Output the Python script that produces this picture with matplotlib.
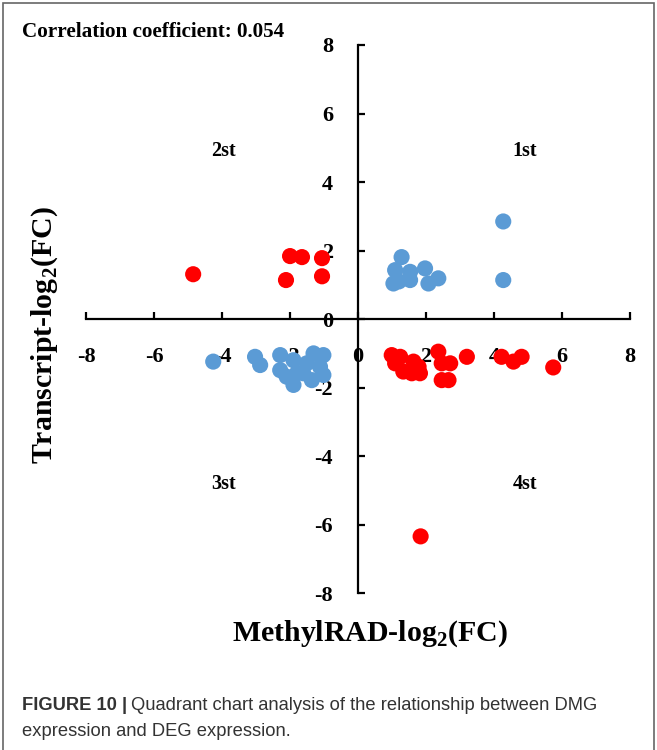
"""Quadrant chart: MethylRAD vs transcript log2 fold change."""

import matplotlib.pyplot as plt
from matplotlib.patches import Rectangle

plt.rcParams['mathtext.fontset'] = 'custom'
plt.rcParams['mathtext.rm'] = 'Liberation Serif:bold'
plt.rcParams['mathtext.bf'] = 'Liberation Serif:bold'
plt.rcParams['axes.unicode_minus'] = False

# Data (log2 fold changes)
red_x = [-4.85, -2.0, -1.65, -1.06, -2.12, -1.06,
         0.99, 1.24, 1.09, 1.33, 1.63, 1.58, 1.82, 1.78, 2.36, 2.71, 2.46,
         2.66, 3.2, 4.22, 4.57, 4.81, 5.74, 2.46, 1.84]
red_y = [1.31, 1.84, 1.81, 1.78, 1.14, 1.25,
         -1.05, -1.10, -1.29, -1.53, -1.24, -1.58, -1.58, -1.39, -0.95, -1.29, -1.78,
         -1.78, -1.10, -1.10, -1.24, -1.10, -1.41, -1.29, -6.34]

blue_x = [4.27, 4.27, 1.28, 1.09, 1.53, 1.04, 1.53, 1.97, 2.07, 2.36, 1.2,
          -4.26, -3.03, -2.88, -2.29, -2.29, -1.9, -1.9, -2.1, -1.31, -1.02,
          -1.12, -1.02, -1.51, -1.61, -1.36, -1.8]
blue_y = [2.85, 1.14, 1.81, 1.43, 1.38, 1.04, 1.14, 1.48, 1.04, 1.19, 1.1,
          -1.24, -1.10, -1.34, -1.05, -1.49, -1.2, -1.92, -1.68, -1.0, -1.05,
          -1.39, -1.63, -1.29, -1.58, -1.78, -1.58]

ticks = [-8, -6, -4, -2, 0, 2, 4, 6, 8]
quadrants = {'1st': (4.9, 4.9), '2st': (-3.97, 4.9), '3st': (-3.97, -4.8), '4st': (4.9, -4.8)}
corr_text = 'Correlation coefficient: 0.054'

serif = 'Liberation Serif'
sans = ['Liberation Sans Narrow', 'Liberation Sans']

fig = plt.figure(figsize=(6.57, 7.5), dpi=100)
ax = fig.add_axes([0.131, 0.209, 0.828, 0.731])

ax.scatter(red_x, red_y, s=135, color='#ff0000', edgecolors='none', zorder=3)
ax.scatter(blue_x, blue_y, s=135, color='#5b9bd5', edgecolors='none', zorder=3)

ax.set_xlim(-8, 8)
ax.set_ylim(-8, 8)
ax.spines['left'].set_position(('data', 0))
ax.spines['bottom'].set_position(('data', 0))
ax.spines['right'].set_visible(False)
ax.spines['top'].set_visible(False)
for s in ('left', 'bottom'):
    ax.spines[s].set_linewidth(1.6)
ax.set_xticks(ticks)
ax.set_yticks(ticks)
ax.tick_params(axis='both', direction='in', length=5, width=1.6)
ax.tick_params(axis='x', pad=20)
ax.tick_params(axis='y', pad=18)
for lab in ax.get_xticklabels() + ax.get_yticklabels():
    lab.set_fontfamily(serif)
    lab.set_fontweight('bold')
    lab.set_fontsize(16)

for name, (qx, qy) in quadrants.items():
    ax.text(qx, qy, name, ha='center', va='center', fontfamily=serif,
            fontweight='bold', fontsize=14.5)

fig.text(0.5632, 0.155, r'MethylRAD-log$_\mathbf{2}$(FC)', ha='center', va='center',
         fontfamily=serif, fontweight='bold', fontsize=21.5)
fig.text(0.068, 0.553, r'Transcript-log$_\mathbf{2}$(FC)', ha='center', va='center',
         rotation=90, fontfamily=serif, fontweight='bold', fontsize=21.5)
fig.text(0.034, 0.957, corr_text, ha='left', va='center', fontfamily=serif,
         fontweight='bold', fontsize=15.2)

# caption
cap_bold = fig.text(0.034, 0.059, 'FIGURE 10 |', ha='left', va='center', family=sans,
                    fontweight='bold', fontsize=13.2, color='#333333')
renderer = fig.canvas.get_renderer()
bb = cap_bold.get_window_extent(renderer).transformed(fig.transFigure.inverted())
fig.text(bb.x1 + 0.006, 0.059, 'Quadrant chart analysis of the relationship between DMG',
         ha='left', va='center', family=sans, fontsize=13.2, color='#333333')
fig.text(0.034, 0.025, 'expression and DEG expression.', ha='left', va='center',
         family=sans, fontsize=13.2, color='#333333')

fig.add_artist(Rectangle((0.004, -0.05), 0.992, 1.046, transform=fig.transFigure,
                         fill=False, edgecolor='#666666', linewidth=1.2))

fig.savefig('out.png', dpi=100)
